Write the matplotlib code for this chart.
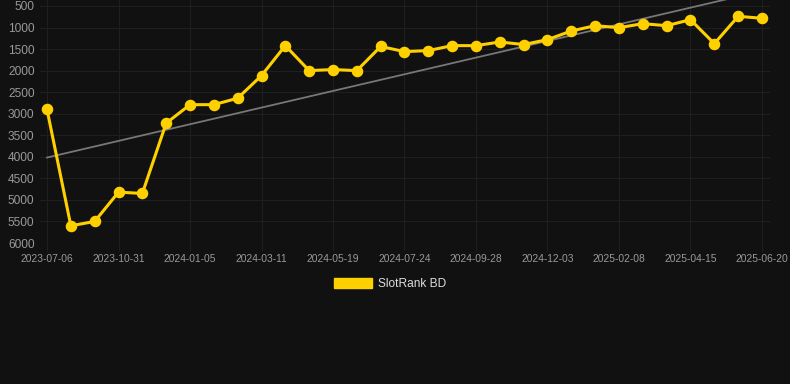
import numpy as np
import matplotlib
matplotlib.use("Agg")
import matplotlib.pyplot as plt
from matplotlib.patches import Patch

plt.rcParams['font.family'] = ['Liberation Sans', 'DejaVu Sans']

# rank values, one per sample (lower is better, axis is inverted)
ranks = [2900, 5600, 5500, 4820, 4850, 3220, 2790, 2790, 2640, 2115,
         1420, 2000, 1975, 2000, 1440, 1558, 1535, 1420, 1420, 1335,
         1395, 1280, 1080, 957, 1003, 910, 957, 817, 1374, 740, 785]
# only every third sample gets a date label
tick_labels = ['2023-07-06', '2023-10-31', '2024-01-05', '2024-03-11',
               '2024-05-19', '2024-07-24', '2024-09-28', '2024-12-03',
               '2025-02-08', '2025-04-15', '2025-06-20']
y_ticks = [500, 1000, 1500, 2000, 2500, 3000, 3500, 4000, 4500, 5000, 5500, 6000]
series_name = 'SlotRank BD'

bg = '#111111'
gold = '#FFD000'

x = np.arange(len(ranks))
fig = plt.figure(figsize=(7.9, 3.84), dpi=100, facecolor=bg)
ax = fig.add_axes([40 / 790, 1 - 243 / 384, 730 / 790, 243 / 384])
ax.set_facecolor(bg)

# linear trend
k, b = np.polyfit(x, ranks, 1)
ax.plot(x, k * x + b, color='#777777', lw=1.3, zorder=2)

ax.plot(x, ranks, color=gold, lw=2.2, marker='o', ms=7.3, zorder=3, clip_on=False)

px = 23.83
ax.set_xlim(-7 / px, 30 + 8 / px)
ax.set_ylim(6000, 500 - 6 * 23.18)

ax.set_yticks(y_ticks)
ax.set_yticklabels([str(v) for v in y_ticks])
ax.set_xticks(x[::3])
ax.set_xticklabels(tick_labels)

ax.grid(True, color='#1f1f1f', lw=0.8)
ax.tick_params(axis='y', colors='#999999', labelsize=8.6, length=0, pad=4)
ax.tick_params(axis='x', colors='#1f1f1f', labelcolor='#999999', labelsize=7.4, length=6, pad=2)
for s in ax.spines.values():
    s.set_visible(False)
ax.axhline(6000, color='#2a2a2a', lw=0.8)

fig.legend(handles=[Patch(facecolor=gold, edgecolor=gold)], labels=[series_name],
           loc='center', bbox_to_anchor=(390 / 790, 1 - 284 / 384), frameon=False,
           handlelength=3.2, handleheight=0.9, handletextpad=0.5,
           fontsize=8.6, labelcolor='#dddddd')

fig.savefig('out.png', dpi=100, facecolor=bg)
